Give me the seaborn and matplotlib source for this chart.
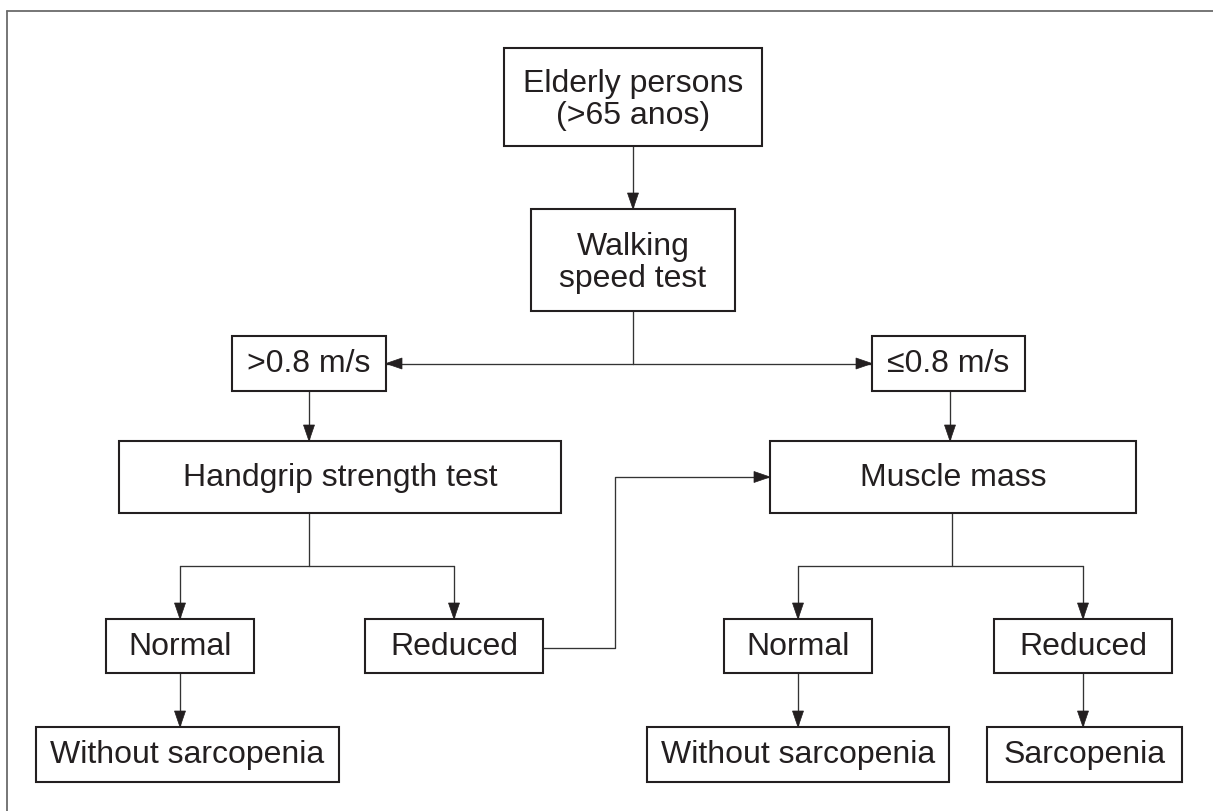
import numpy as np
import pandas as pd
import matplotlib
matplotlib.use("Agg")
import matplotlib.pyplot as plt
import seaborn as sns
from matplotlib.patches import Rectangle, Polygon

# ---------------- data (flowchart content) ----------------
node_ids = ["elderly", "walk", "fast", "slow", "grip", "muscle",
            "grip_normal", "grip_reduced", "mm_normal", "mm_reduced",
            "no_sarc_left", "no_sarc_right", "sarc"]
node_labels = ["Elderly persons\n(>65 anos)", "Walking\nspeed test",
               ">0.8 m/s", "≤0.8 m/s",
               "Handgrip strength test", "Muscle mass",
               "Normal", "Reduced", "Normal", "Reduced",
               "Without sarcopenia", "Without sarcopenia", "Sarcopenia"]

# ---------------- layout (pixel units, y downward) ----------------
W, H = 1213, 811
box = {  # x0, x1, y0, y1
    "elderly":       (504, 762, 48, 146),
    "walk":          (531, 735, 209, 311),
    "fast":          (232, 386, 336, 391),
    "slow":          (872, 1025, 336, 391),
    "grip":          (119, 561, 441, 513),
    "muscle":        (770, 1136, 441, 513),
    "grip_normal":   (106, 254, 619, 673),
    "grip_reduced":  (365, 543, 619, 673),
    "mm_normal":     (724, 872, 619, 673),
    "mm_reduced":    (994, 1172, 619, 673),
    "no_sarc_left":  (36, 339, 727, 782),
    "no_sarc_right": (647, 949, 727, 782),
    "sarc":          (987, 1182, 727, 782),
}
cx_main, y_split = 633, 363.5
x_grip, x_mm, y_br = 309, 952, 566
x_link, y_link_low, y_link_high = 615, 648, 477

# connector polylines: (points, arrow at end?)
connectors = [
    ([(cx_main, 146), (cx_main, 209)], True),
    ([(cx_main, 311), (cx_main, y_split)], False),
    ([(cx_main, y_split), (386, y_split)], True),
    ([(cx_main, y_split), (872, y_split)], True),
    ([(x_grip, 391), (x_grip, 441)], True),
    ([(950, 391), (950, 441)], True),
    ([(x_grip, 513), (x_grip, y_br)], False),
    ([(180, y_br), (454, y_br)], False),
    ([(180, y_br), (180, 619)], True),
    ([(454, y_br), (454, 619)], True),
    ([(x_mm, 513), (x_mm, y_br)], False),
    ([(798, y_br), (1083, y_br)], False),
    ([(798, y_br), (798, 619)], True),
    ([(1083, y_br), (1083, 619)], True),
    ([(180, 673), (180, 727)], True),
    ([(798, 673), (798, 727)], True),
    ([(1083, 673), (1083, 727)], True),
    ([(543, y_link_low), (x_link, y_link_low), (x_link, y_link_high), (770, y_link_high)], True),
]

# ---------------- styling ----------------
sns.set_theme(style="white")
plt.rcParams["font.family"] = ["Liberation Sans", "DejaVu Sans"]

ink = "#231f20"
line_col = "#333333"
border_col = "#6b6b6b"

fig = plt.figure(figsize=(W / 100, H / 100), dpi=100)
ax = fig.add_axes([0, 0, 1, 1])

# connectors via seaborn
rows = []
for i, (pts, _) in enumerate(connectors):
    for j, (x, y) in enumerate(pts):
        rows.append({"seg": i, "order": j, "x": x, "y": y})
df = pd.DataFrame(rows)
sns.lineplot(data=df, x="x", y="y", units="seg", estimator=None, sort=False,
             color=line_col, lw=0.95, ax=ax, legend=False)

# arrowheads
head_len, head_half = 16, 5.5
for pts, arrow in connectors:
    if not arrow:
        continue
    (x0, y0), (x1, y1) = pts[-2], pts[-1]
    d = np.array([x1 - x0, y1 - y0], dtype=float)
    d /= np.linalg.norm(d)
    n = np.array([-d[1], d[0]])
    tip = np.array([x1, y1], dtype=float)
    base = tip - d * head_len
    tri = [tip, base + n * head_half, base - n * head_half]
    ax.add_patch(Polygon(tri, closed=True, facecolor=ink, edgecolor=ink, lw=0.5, zorder=4))

# boxes + labels
for nid, label in zip(node_ids, node_labels):
    x0, x1, y0, y1 = box[nid]
    ax.add_patch(Rectangle((x0, y0), x1 - x0, y1 - y0, facecolor="white",
                           edgecolor=ink, lw=1.5, zorder=3))
    two_line = "\n" in label
    ax.text((x0 + x1) / 2, (y0 + y1) / 2 + (3 if two_line else 1), label,
            ha="center", va="center", fontsize=23, color=ink,
            linespacing=1.1, zorder=5)

# outer frame (left and top edges only, as in the cropped figure)
ax.plot([7, 7], [11, H], color=border_col, lw=1.3)
ax.plot([7, W], [11, 11], color=border_col, lw=1.3)

ax.set_xlim(0, W)
ax.set_ylim(H, 0)
ax.axis("off")

fig.savefig("out.png", dpi=100, facecolor="white")
